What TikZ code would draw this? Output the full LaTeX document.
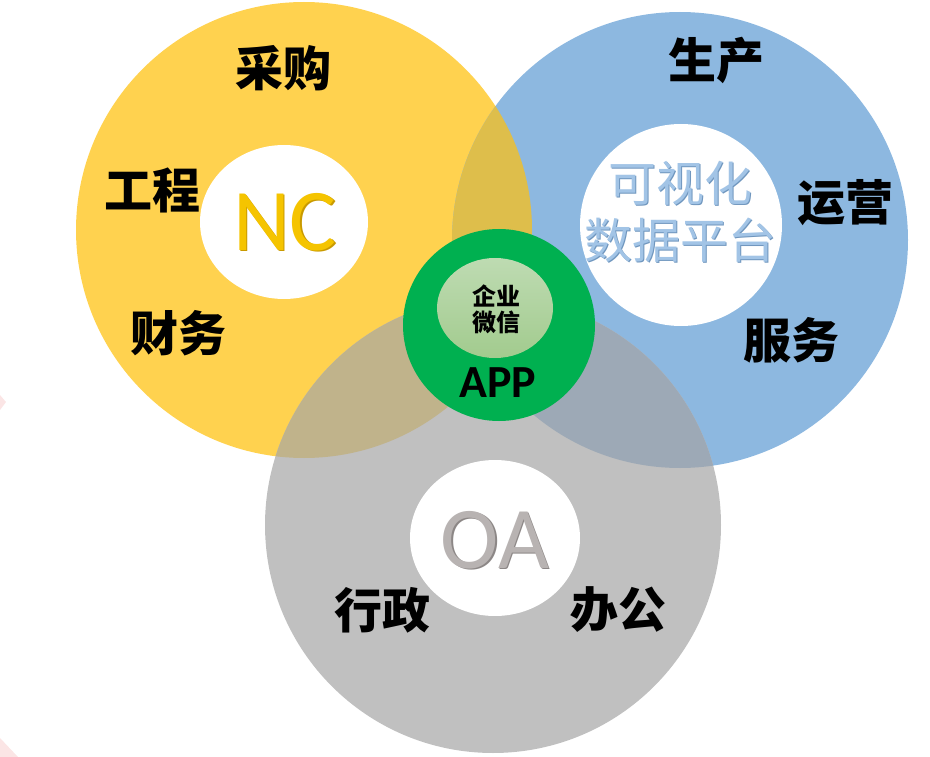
\documentclass[tikz,border=0pt]{standalone}
\usepackage{fontspec}
\setmainfont{Carlito}
\newfontfamily\cjk{Noto Sans CJK SC}
\usetikzlibrary{positioning}

\definecolor{ncyellow}{HTML}{FFD24F}
\definecolor{dpblue}{HTML}{8DB8E0}
\definecolor{oagray}{HTML}{C0C0C0}
\definecolor{ybmix}{HTML}{DEBE4B}
\definecolor{ygmix}{HTML}{C0B38B}
\definecolor{bgmix}{HTML}{9DA9B6}
\definecolor{appgreen}{HTML}{00B050}
\definecolor{wxtop}{HTML}{BEDBB2}
\definecolor{wxbot}{HTML}{A2CB8E}
\definecolor{ncgold}{HTML}{F5C400}
\definecolor{ncdark}{HTML}{C99A00}
\definecolor{oatext}{HTML}{B8B3B2}
\definecolor{oadark}{HTML}{8C8786}
\definecolor{dptext}{HTML}{A2C4E6}
\definecolor{dpdark}{HTML}{6F96BE}
\definecolor{edgepink}{HTML}{FBE5E5}

\begin{document}
\begin{tikzpicture}[x=1pt,y=-1pt,
  dept/.style={font=\cjk\bfseries\fontsize{48}{48}\selectfont,text=black,inner sep=0pt},
  bigname/.style={font=\fontsize{88}{88}\selectfont,inner sep=0pt},
  dpname/.style={font=\cjk\fontsize{48}{48}\selectfont,inner sep=0pt}]

\useasboundingbox (0,0) rectangle (930,757);

\fill[edgepink] (0,395) -- (6,402) -- (0,410) -- cycle;
\fill[edgepink] (0,738) -- (18,757) -- (0,757) -- cycle;


\fill[ncyellow] (304,230) circle[radius=228pt];
\fill[dpblue] (680,240) circle[radius=228pt];
\fill[oagray] (493,525) circle[radius=228pt];

\begin{scope}
  \clip (304,230) circle[radius=228pt];
  \fill[ybmix] (680,240) circle[radius=228pt];
  \fill[ygmix] (493,525) circle[radius=228pt];
\end{scope}

\begin{scope}
  \clip (680,240) circle[radius=228pt];
  \fill[bgmix] (493,525) circle[radius=228pt];
\end{scope}



\fill[white] (284,222) ellipse[x radius=84pt, y radius=77pt];
\fill[white] (681,225) circle[radius=101pt];
\fill[white] (495,538) ellipse[x radius=85pt, y radius=78pt];

\fill[appgreen] (499,325) circle[radius=96pt];
\shade[top color=wxtop,bottom color=wxbot] (495,308) ellipse[x radius=58pt, y radius=50pt];



\node (ncedge) at (286.3,223.3) [bigname,text=ncdark] {NC};
\node (nc) at (285,222) [bigname,text=ncgold] {NC};
\node (oaedge) at (496.3,541.3) [bigname,text=oadark] {OA};
\node (oa) at (495,540) [bigname,text=oatext] {OA};

\node (keshihuaedge) at (681,184) [dpname,text=dpdark] {可视化};
\node (keshihua) at (680,183) [dpname,text=dptext] {可视化};
\node (shujuedge) at (681,241) [dpname,text=dpdark] {数据平台};
\node (shujupingtai) at (680,240) [dpname,text=dptext] {数据平台};

\node (caigou) at (283,68) [dept] {采购};
\node (gongcheng) at (152,190) [dept] {工程};
\node (caiwu) at (178,333) [dept] {财务};

\node (shengchan) at (716,60) [dept] {生产};
\node (yunying) at (845,203) [dept] {运营};
\node (fuwu) at (791,340) [dept] {服务};

\node (xingzheng) at (382,610) [dept] {行政};
\node (bangong) at (618,610) [dept] {办公};

\node (qiye) at (496,296) [font=\cjk\bfseries\fontsize{24}{24}\selectfont,inner sep=0pt] {企业};
\node (weixin) at (496,322) [font=\cjk\bfseries\fontsize{24}{24}\selectfont,inner sep=0pt] {微信};
\node (app) at (498,383) [font=\bfseries\fontsize{46}{46}\selectfont,inner sep=0pt] {APP};

\end{tikzpicture}
\end{document}
